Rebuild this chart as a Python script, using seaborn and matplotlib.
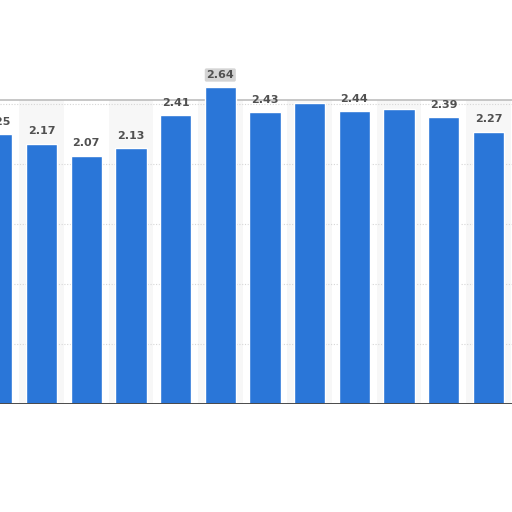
import matplotlib
matplotlib.use('Agg')
import matplotlib.pyplot as plt
import seaborn as sns
import pandas as pd

# Values (first bar is cut off on the left)
categories = ['c01', 'c02', 'c03', 'c04', 'c05', 'c06', 'c07',
              'c08', 'c09', 'c10', 'c11', 'c12', 'c13']
values = [2.25, 2.17, 2.07, 2.13, 2.41, 2.64, 2.43,
          2.51, 2.44, 2.46, 2.39, 2.27, 0.0]
labels = ['2.25', '2.17', '2.07', '2.13', '2.41', '2.64', '2.43',
          '', '2.44', '', '2.39', '2.27', '']

df = pd.DataFrame({'cat': categories, 'value': values})

sns.set_style('white')
fig = plt.figure(figsize=(5.12, 5.12), dpi=100)
ax = fig.add_axes([0, 108 / 512, 1, 330 / 512])

# subtle alternating column stripes
for i in range(len(categories)):
    if i % 2 == 1:
        ax.axvspan(i - 0.5, i + 0.5, ymax=2.535 / 2.75, color='#f7f7f7', zorder=0, lw=0)

sns.barplot(data=df, x='cat', y='value', color='#2a76d8', width=0.7,
            saturation=1, ax=ax, zorder=3)

for y in [0.5, 1.0, 1.5, 2.0, 2.5]:
    ax.axhline(y, color='#d6d6d6', lw=0.8, ls=(0, (1, 1.5)), zorder=1)
ax.axhline(2.535, color='#bdbdbd', lw=1.2, zorder=2)
ax.axhline(0, color='#4a4a4a', lw=1.4, zorder=4)

for i, (v, lab) in enumerate(zip(values, labels)):
    if not lab:
        continue
    kw = {}
    if v > 2.6:
        kw['bbox'] = dict(boxstyle='round,pad=0.15', fc='#d4d4d4', ec='none')
    ax.text(i, v + 0.06, lab, ha='center', va='bottom', fontsize=8,
            fontweight='bold', color='#505050', zorder=5, **kw)

ax.set_xlim(0.0716, 11.526)
ax.set_ylim(0, 2.75)
ax.set_xlabel('')
ax.set_ylabel('')
ax.set_xticks([])
ax.set_yticks([])
sns.despine(ax=ax, left=True, bottom=True, top=True, right=True)

fig.savefig('out.png', dpi=100)
